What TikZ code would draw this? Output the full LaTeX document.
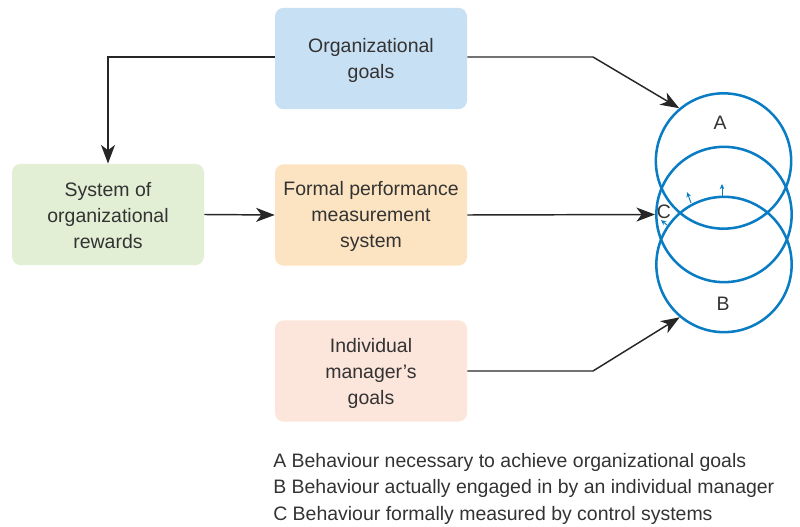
\documentclass[tikz,border=0pt]{standalone}
\usepackage{fontspec}
\setmainfont{Liberation Sans}
\usetikzlibrary{arrows.meta}
\definecolor{txt}{HTML}{333333}
\definecolor{cblue}{HTML}{C8E0F4}
\definecolor{cgreen}{HTML}{E2EFD5}
\definecolor{corange}{HTML}{FCE3C1}
\definecolor{cpink}{HTML}{FCE5DB}
\definecolor{ring}{HTML}{0A7CC4}
\tikzset{
  box/.style={rounded corners=6.5pt, minimum width=144pt, minimum height=76pt, inner sep=0pt,
    align=center, text=txt, font=\fontsize{14.6pt}{19.5pt}\selectfont},
  boxtext/.style={inner sep=0pt, align=center, text=txt, font=\fontsize{14.6pt}{19.5pt}\selectfont},
  conn/.style={line width=1.1pt, draw=black!85, -{Stealth[length=14pt,width=10.5pt,inset=4pt]}},
  ringc/.style={circle, draw=ring, line width=1.9pt, minimum size=101.5pt, inner sep=0pt},
  lbl/.style={text=txt, font=\fontsize{14.6pt}{19.5pt}\selectfont, inner sep=0pt},
  tiny/.style={draw=ring, line width=0.7pt, -{Stealth[length=4pt,width=3.5pt]}}
}
\begin{document}
\begin{tikzpicture}[x=0.75pt,y=-0.75pt]
\useasboundingbox (0,0) rectangle (800,527);
% boxes
\node[box, fill=cblue] (org) at (371,58.5) {};
\node[box, fill=cgreen] (rew) at (108,214.5) {};
\node[box, fill=corange] (frm) at (371,215) {};
\node[box, fill=cpink] (ind) at (371,371) {};
\node[boxtext] (orgt) at (371,60) {Organizational\\goals};
\node[boxtext] (rewt) at (108,216) {System of\\organizational\\rewards};
\node[boxtext] (frmt) at (371,216) {Formal performance\\measurement\\system};
\node[boxtext] (indt) at (371,373) {Individual\\manager's\\goals};
% circles
\node[ringc] (A) at (723.5,161) {};
\node[ringc] (C) at (724,214.5) {};
\node[ringc] (B) at (724,264.5) {};
\node[lbl] (la) at (720,123) {A};
\node[lbl] (lb) at (723,304) {B};
\node[lbl] (lc) at (664,212) {C};
% tiny arrows
\coordinate (t1s) at (722,196); \coordinate (t1e) at (722,184);
\coordinate (t2s) at (691,203); \coordinate (t2e) at (687,192);
\coordinate (t3s) at (667,225); \coordinate (t3e) at (661,220);
\draw[tiny] (t1s) -- (t1e);
\draw[tiny] (t2s) -- (t2e);
\draw[tiny] (t3s) -- (t3e);
% connectors
\coordinate (k1) at (593,57);
\coordinate (k2) at (593,371);
\coordinate (k3) at (108,57);
\draw[conn] (org.east |- 0,57) -- (k1) -- (A.130);
\draw[conn] (frm.east) -- (C.west);
\draw[conn] (ind.east) -- (k2) -- (B.230);
\draw[conn] (org.west |- 0,57) -- (k3) -- (rew.north);
\draw[conn] (rew.east) -- (frm.west);
% legend
\node[lbl, anchor=west] (l1) at (273,462) {A Behaviour necessary to achieve organizational goals};
\node[lbl, anchor=west] (l2) at (273,488.5) {B Behaviour actually engaged in by an individual manager};
\node[lbl, anchor=west] (l3) at (273,515) {C Behaviour formally measured by control systems};
\end{tikzpicture}
\end{document}
